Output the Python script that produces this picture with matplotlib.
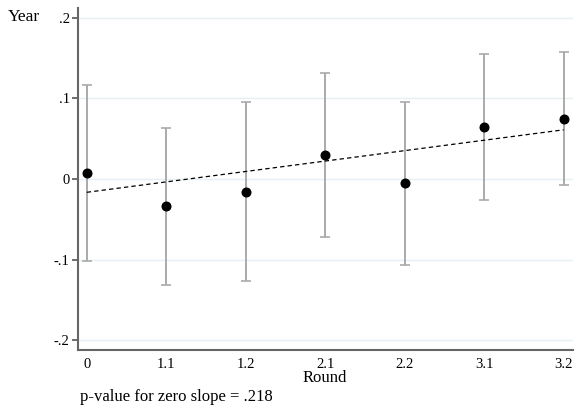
import matplotlib
matplotlib.use("Agg")
import matplotlib.pyplot as plt

categories = ["0", "1.1", "1.2", "2.1", "2.2", "3.1", "3.2"]
estimates = [0.007, -0.034, -0.016, 0.030, -0.005, 0.065, 0.074]
ci_upper = [0.116, 0.063, 0.095, 0.132, 0.095, 0.155, 0.157]
ci_lower = [-0.102, -0.131, -0.127, -0.072, -0.106, -0.026, -0.008]
trend_ends = [-0.0165, 0.061]
yticks = [-0.2, -0.1, 0.0, 0.1, 0.2]
ytick_labels = ["-.2", "-.1", "0", ".1", ".2"]
note = "p-value for zero slope = .218"

plt.rcParams['font.family'] = ['Liberation Serif', 'DejaVu Serif']

fig = plt.figure(figsize=(5.85, 4.12), dpi=100)
ax = fig.add_axes([78/585, 62/412, (573-78)/585, (350-8)/412])

x = list(range(len(categories)))
for yv in yticks:
    ax.axhline(yv, color="#e6eff1", lw=1.0, zorder=0)

err_lo = [e - l for e, l in zip(estimates, ci_lower)]
err_hi = [u - e for e, u in zip(estimates, ci_upper)]
ax.errorbar(x, estimates, yerr=[err_lo, err_hi], fmt="none", ecolor="#aaaaaa",
            elinewidth=1.4, capsize=3.5, capthick=1.2, zorder=2)
ax.plot([x[0], x[-1]], trend_ends, color="black", lw=0.9, ls=(0, (3.5, 2.5)), zorder=3)
ax.plot(x, estimates, "o", color="black", ms=6.2, zorder=4)

ax.set_xlim(-0.11, 6.117)
ax.set_ylim(-0.212, 0.212)
ax.set_xticks(x)
ax.set_xticklabels(categories)
ax.set_yticks(yticks)
ax.set_yticklabels(ytick_labels)
ax.tick_params(axis="x", length=0, pad=6, labelsize=10.5)
ax.tick_params(axis="y", length=4, width=1.2, color="#555555", pad=2, labelsize=10.5)

for s in ["top", "right"]:
    ax.spines[s].set_visible(False)
for s in ["left", "bottom"]:
    ax.spines[s].set_color("#666666")
    ax.spines[s].set_linewidth(1.5)

fig.text(325/585, 1 - 378/412, "Round", ha="center", va="center", fontsize=12)
fig.text(8/585, 1 - 17/412, "Year", ha="left", va="center", fontsize=12.5)
fig.text(80/585, 1 - 397/412, note, ha="left", va="center", fontsize=12)

fig.savefig("out.png", dpi=100)
